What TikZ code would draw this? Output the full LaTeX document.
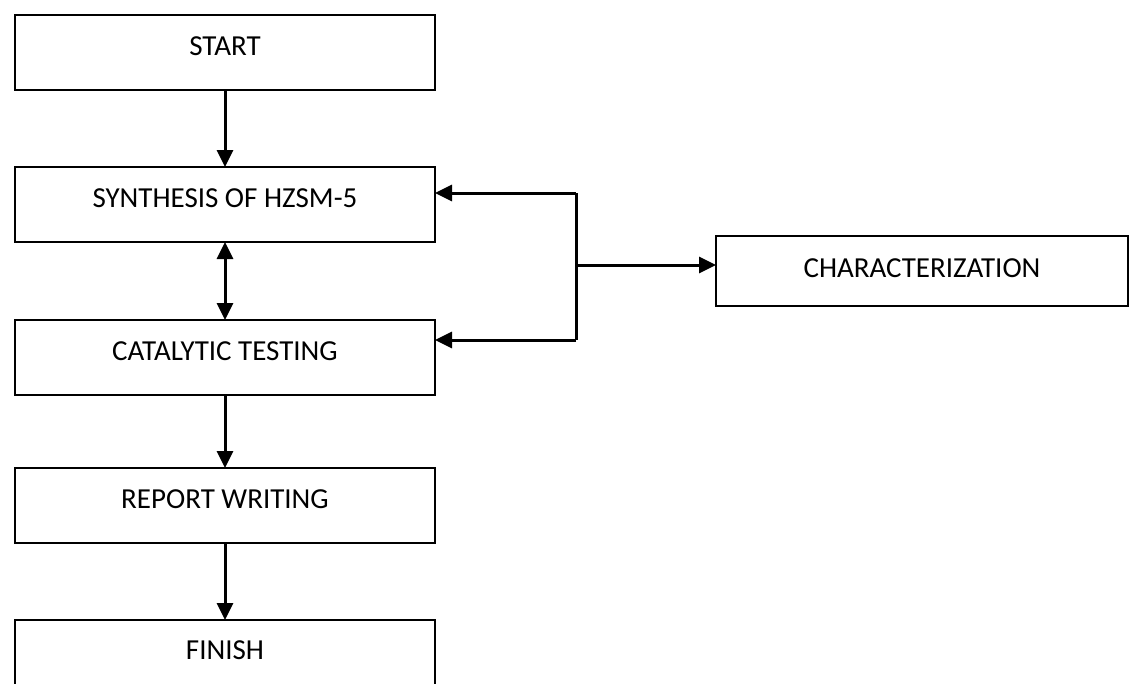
\documentclass[tikz,border=0pt]{standalone}
\usepackage{fontspec}
\setmainfont{Carlito}
\usetikzlibrary{arrows.meta,positioning,calc}

\begin{document}
\begin{tikzpicture}[x=1pt, y=-1pt,
  stage/.style={draw, line width=2.2pt, minimum width=420pt, minimum height=75pt,
                inner sep=0pt, outer sep=0pt, text depth=13pt, font=\fontsize{29}{33}\selectfont},
  flow/.style={line width=3pt, -{Triangle[length=17pt, width=16pt]}},
  both/.style={line width=3pt, {Triangle[length=17pt, width=16pt]}-{Triangle[length=17pt, width=16pt]}}
]
  \clip (0,0) rectangle (1130,683);
  \fill[white] (0,0) rectangle (1130,683);
  \node[stage]                      (start) at (225,52.5)  {START};
  \node[stage, below=77pt of start] (synth) {SYNTHESIS OF HZSM-5};
  \node[stage, below=78pt of synth] (cat)   {CATALYTIC TESTING};
  \node[stage, below=73pt of cat]   (rep)   {REPORT WRITING};
  \node[stage, below=77pt of rep, text depth=14pt] (fin) {FINISH};
  \node[stage, minimum width=412pt, minimum height=70pt, text depth=6pt] (char) at (922,271) {CHARACTERIZATION};
  % branch towards characterization
  \coordinate (jt) at (576,193);
  \coordinate (jm) at (576,265);
  \coordinate (jb) at (576,340);
  \draw[flow] (start) -- (synth);
  \draw[both] (synth) -- (cat);
  \draw[flow] (cat) -- (rep);
  \draw[flow] (rep) -- (fin);
  \draw[line width=3pt] (jt) -- (jb);
  \draw[flow] (jt) -- (jt -| synth.east);
  \draw[flow] (jb) -- (jb -| cat.east);
  \draw[flow] (jm) -- (jm -| char.west);
\end{tikzpicture}
\end{document}
